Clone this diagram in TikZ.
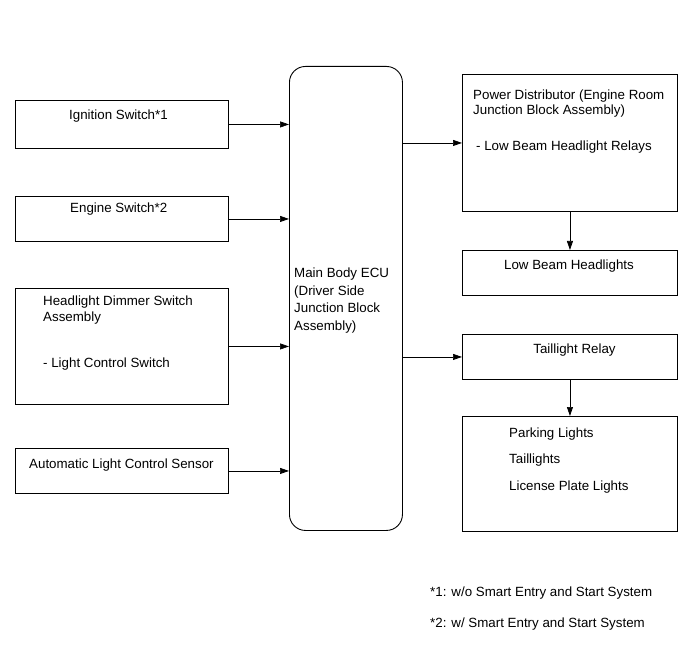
\documentclass[tikz,border=0pt]{standalone}
\usepackage{fontspec}
\setmainfont{Liberation Sans}
\usetikzlibrary{arrows.meta}
\begin{document}
\begin{tikzpicture}[x=1pt,y=-1pt,
  font=\fontsize{13.33}{16}\selectfont,
  box/.style={draw, line width=0.9pt, rectangle, anchor=north west, inner sep=0pt},
  txt/.style={anchor=base west, inner sep=0pt},
  ctxt/.style={anchor=base, inner sep=0pt},
  arr/.style={draw, line width=0.7pt, -{Triangle[length=9pt,width=6pt]}}]
\useasboundingbox (0,0) rectangle (691,660);
\fill[white] (0,0) rectangle (691,660);
% left column
\node[box, minimum width=213.5pt, minimum height=48pt] (ign) at (14.5,100) {};
\node[txt] (ignt) at (69,120) {Ignition Switch*1};
\node[box, minimum width=213.5pt, minimum height=45pt] (eng) at (14.5,196) {};
\node[txt] (engt) at (70,213) {Engine Switch*2};
\node[box, minimum width=213.5pt, minimum height=116pt] (hd) at (14.5,288) {};
\node[txt] (hdt1) at (43,306) {Headlight Dimmer Switch};
\node[txt] (hdt2) at (43,322) {Assembly};
\node[txt] (hdt3) at (43,367) {- Light Control Switch};
\node[box, minimum width=213.5pt, minimum height=45pt] (aut) at (14.5,448) {};
\node[txt] (autt) at (29,468) {Automatic Light Control Sensor};
% ECU
\node[box, rounded corners=16pt, minimum width=113pt, minimum height=464pt] (ecu) at (289,66) {};
\node[txt] (ecut1) at (294,278) {Main Body ECU};
\node[txt] (ecut2) at (294,295.5) {(Driver Side};
\node[txt] (ecut3) at (294,313) {Junction Block};
\node[txt] (ecut4) at (294,330.5) {Assembly)};
% right column
\node[box, minimum width=215pt, minimum height=137pt] (pwr) at (462,74) {};
\node[txt] (pwrt1) at (473,100) {Power Distributor (Engine Room};
\node[txt] (pwrt2) at (473,115) {Junction Block Assembly)};
\node[txt] (pwrt3) at (476,151) {- Low Beam Headlight Relays};
\node[box, minimum width=215pt, minimum height=45pt] (lbh) at (462,250) {};
\node[ctxt] (lbht) at (569,270) {Low Beam Headlights};
\node[box, minimum width=215pt, minimum height=45pt] (tlr) at (462,334) {};
\node[ctxt] (tlrt) at (574.5,354) {Taillight Relay};
\node[box, minimum width=215pt, minimum height=115pt] (pk) at (462,416) {};
\node[txt] (pkt1) at (509,437) {Parking Lights};
\node[txt] (pkt2) at (509,463) {Taillights};
\node[txt] (pkt3) at (509,490) {License Plate Lights};
% footnotes
\node[txt] (fn1) at (430,596) {*1: w/o Smart Entry and Start System};
\node[txt] (fn2) at (430,627) {*2: w/ Smart Entry and Start System};
% connectors
\draw[arr] (ign.east) -- (ign.east -| ecu.west);
\draw[arr] (eng.east) -- (eng.east -| ecu.west);
\draw[arr] (hd.east) -- (hd.east -| ecu.west);
\draw[arr] (aut.east) -- (aut.east -| ecu.west);
\draw[arr] (pwr.west -| ecu.east) -- (pwr.west);
\draw[arr] (tlr.west -| ecu.east) -- (tlr.west);
\draw[arr] (pwr.south) -- (lbh.north);
\draw[arr] (tlr.south) -- (tlr.south |- pk.north);
\end{tikzpicture}
\end{document}
